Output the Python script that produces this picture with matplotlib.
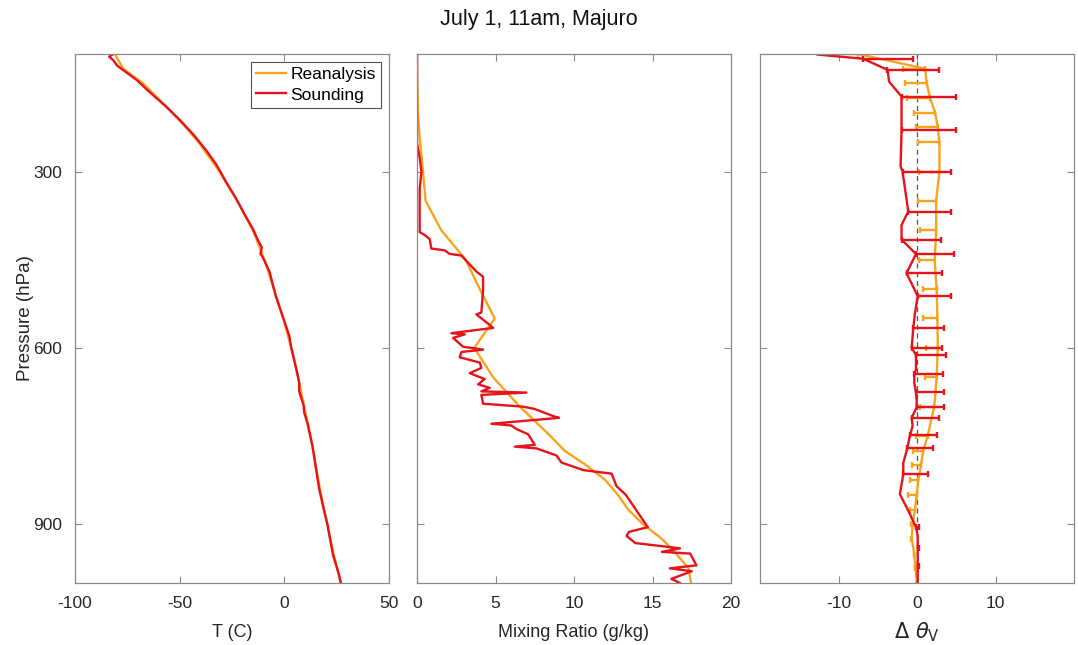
import numpy as np
import matplotlib
matplotlib.use('Agg')
import matplotlib.pyplot as plt

plt.rcParams['font.family'] = ['Liberation Sans', 'DejaVu Sans']
plt.rcParams['mathtext.fontset'] = 'dejavusans'
plt.rcParams['axes.unicode_minus'] = False

# reanalysis pressure levels (hPa)
re_p = [100, 125, 150, 175, 200, 225, 250, 300, 350, 400, 450, 500, 550, 600,
        650, 700, 750, 775, 800, 825, 850, 875, 900, 925, 950, 975, 1000]
re_T = [-81, -77, -67.5, -60.5, -53.5, -47, -41, -31, -22.5, -15, -9.5, -5,
        -0.5, 3.3, 6.6, 9.5, 12.5, 13.8, 15, 16.2, 17.6, 19, 20.6, 22, 23.5,
        25.2, 27]
re_mr = [0.0, 0.0, 0.02, 0.04, 0.05, 0.12, 0.2, 0.38, 0.55, 1.55, 3.1, 4.0,
         4.95, 3.65, 4.85, 6.55, 8.5, 9.4, 10.8, 12.0, 12.8, 13.45, 14.4, 15.6,
         16.5, 17.3, 17.45]
re_dthv = [-7.5, 1.03, 1.24, 1.67, 2.31, 2.65, 2.86, 2.86, 2.44, 2.44, 2.25,
           2.5, 2.6, 2.65, 2.5, 2.2, 1.35, 0.8, 0.5, 0.17, -0.04, -0.26, -0.56,
           -0.68, -0.34, -0.2, 0.0]
re_err = [2.7, 2.78, 2.78, 2.9, 2.65, 2.8, 2.77, 2.56, 2.27, 2.0, 2.0, 1.7,
          1.8, 1.5, 1.5, 1.8, 1.5, 1.27, 1.2, 1.07, 1.07, 0.64, 0.15, 0.1, 0.1,
          0.05, 0.0]

# sounding
sd_T_p = [100, 104.6, 110.6, 120, 144, 165, 190, 212, 236, 264, 288, 318, 346,
          373, 397, 416, 429, 440, 446, 470, 513, 546, 580, 598, 634, 659, 674,
          698, 710, 729, 768, 805, 841, 877, 901, 932, 953, 968, 987, 1000]
sd_T = [-81.7, -83.7, -81.7, -79.8, -70.6, -64.3, -56.3, -50, -43.7, -37.3,
        -32.5, -27.8, -23, -19, -15.1, -12.7, -10.8, -11.4, -10.3, -7.1, -4,
        -0.8, 2.4, 3.2, 5.6, 7.1, 7.1, 9.2, 9.5, 11.1, 13.5, 15.1, 16.7, 19,
        20.6, 22.2, 23.3, 24.6, 26.2, 27]

sd_mr_p = [100, 251, 276, 300, 330, 403, 408, 415, 431, 434, 440, 443, 455,
           470, 479, 501, 540, 543, 561, 566, 575, 577, 583, 598, 603, 607, 616,
           625, 634, 643, 653, 662, 668, 674, 676, 680, 695, 700, 704, 716, 719,
           729, 732, 738, 747, 765, 768, 771, 783, 795, 808, 814, 835, 850, 905,
           913, 920, 932, 941, 947, 950, 970, 975, 980, 993, 1000]
sd_mr = [0.0, 0.0, 0.17, 0.28, 0.17, 0.17, 0.49, 0.81, 0.91, 1.76, 2.08, 2.83,
         3.25, 3.78, 4.21, 4.21, 4.1, 3.78, 4.63, 4.85, 2.19, 3.04, 2.3, 2.93,
         4.21, 2.83, 2.72, 4.0, 4.1, 3.36, 4.31, 3.89, 4.63, 4.1, 6.97, 4.1,
         4.21, 6.76, 7.5, 8.67, 9.05, 4.74, 6.01, 6.33, 7.08, 7.5, 6.23, 7.61,
         8.88, 9.2, 10.6, 12.4, 12.7, 13.3, 14.7, 13.5, 13.35, 13.9, 16.75,
         15.6, 17.4, 17.8, 16.1, 17.5, 16.2, 16.75]

sd_dthv_p = [101, 108, 127, 147, 172.5, 229, 291, 300, 368, 391, 416, 440, 473,
             512, 541, 566, 600, 612, 637, 645, 660, 675, 691, 701, 719, 733,
             749, 771, 796, 815, 849, 877, 905, 920, 940, 971, 1000]
sd_dthv = [-12.65, -6.88, -3.76, -3.55, -1.97, -1.97, -2.09, -1.84, -1.11,
           -1.97, -1.97, -0.13, -1.33, 0.09, -0.26, -0.47, -0.68, -0.13, -0.13,
           -0.34, -0.34, -0.13, -0.04, -0.04, -0.68, -0.56, -0.9, -1.24, -1.75,
           -1.75, -2.18, -1.11, -0.13, 0.09, 0.09, 0.09, 0.09]

# sounding error bars (positive side only)
sd_bar_p = [108, 127, 172.5, 229, 300, 368, 416, 440, 473, 512, 566, 600, 612,
            645, 675, 701, 719, 749, 771, 815, 905, 940, 971]
sd_bar_x = [-6.88, -3.76, -1.97, -1.97, -1.84, -1.11, -1.97, -0.13, -1.33,
            0.09, -0.47, -0.68, -0.13, -0.34, -0.13, -0.04, -0.68, -0.9, -1.24,
            -1.75, -0.13, 0.09, 0.09]
sd_bar_err = [6.41, 6.5, 6.97, 6.97, 6.2, 5.47, 5.0, 4.87, 4.49, 4.23, 3.93,
              3.84, 3.85, 3.63, 3.59, 3.54, 3.42, 3.42, 3.34, 3.2, 0.43, 0.12,
              0.12]

orange = '#F7A41C'
red = '#E8121A'
lw = 1.7

fig = plt.figure(figsize=(10.78, 6.45), dpi=100)
W, H = 1078, 645
boxes = [(75, 389), (417, 731), (760, 1074)]
axes = []
for x0, x1 in boxes:
    ax = fig.add_axes([x0 / W, 1 - 583 / H, (x1 - x0) / W, (583 - 54) / H])
    axes.append(ax)

ax1, ax2, ax3 = axes

ax1.plot(re_T, re_p, color=orange, lw=lw, label='Reanalysis')
ax1.plot(sd_T, sd_T_p, color=red, lw=lw, label='Sounding')
ax1.set_xlim(-100, 50)
ax1.set_xticks([-100, -50, 0, 50])
ax1.set_xlabel('T (C)')
ax1.set_ylabel('Pressure (hPa)')
leg = ax1.legend(loc='upper right', fontsize=12.5, frameon=True, fancybox=False,
                 borderpad=0.3, handlelength=1.75, handletextpad=0.25,
                 labelspacing=0.3, borderaxespad=0.45)
leg.get_frame().set_edgecolor('#262626')
leg.get_frame().set_linewidth(0.8)

ax2.plot(re_mr, re_p, color=orange, lw=lw)
ax2.plot(sd_mr, sd_mr_p, color=red, lw=lw)
ax2.set_xlim(0, 20)
ax2.set_xticks([0, 5, 10, 15, 20])
ax2.set_xlabel('Mixing Ratio (g/kg)')

ax3.axvline(0, color='#555555', lw=0.9, ls=(0, (4, 3)))
ax3.plot(re_dthv, re_p, color=orange, lw=lw)
ax3.errorbar(re_dthv, re_p, xerr=[re_err, np.zeros(len(re_err))], fmt='none',
             ecolor=orange, elinewidth=lw, capsize=2.5, capthick=lw)
ax3.plot(sd_dthv, sd_dthv_p, color=red, lw=lw)
ax3.errorbar(sd_bar_x, sd_bar_p, xerr=[np.zeros(len(sd_bar_err)), sd_bar_err],
             fmt='none', ecolor=red, elinewidth=lw, capsize=2.5, capthick=lw)
ax3.set_xlim(-20, 20)
ax3.set_xticks([-10, 0, 10])
ax3.set_xlabel(r'$\Delta\ \theta_{\mathrm{V}}$')

for i, ax in enumerate(axes):
    ax.set_ylim(1000, 100)
    ax.set_yticks([300, 600, 900])
    if i > 0:
        ax.set_yticklabels([])
    ax.tick_params(direction='in', top=True, right=True, length=5, width=0.8,
                   color='#8a8a8a', labelsize=12.5, labelcolor='#262626', pad=9)
    for s in ax.spines.values():
        s.set_color('#8a8a8a')
        s.set_linewidth(0.9)
    ax.xaxis.label.set_size(13)
    ax.xaxis.label.set_color('#262626')
    ax.xaxis.labelpad = 10

ax3.xaxis.label.set_size(15)
ax3.xaxis.labelpad = 7

ax1.yaxis.label.set_size(13.5)
ax1.yaxis.label.set_color('#262626')
ax1.yaxis.labelpad = 0

fig.suptitle('July 1, 11am, Majuro', fontsize=15.5, y=1 - 20 / H, va='center',
             color='#111111')

fig.savefig('out.png', dpi=100)
